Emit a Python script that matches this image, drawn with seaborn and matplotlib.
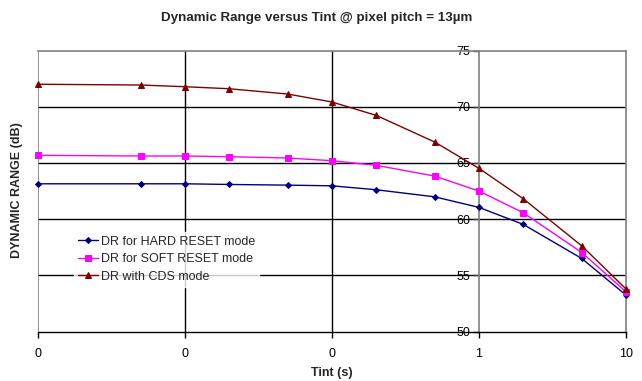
import matplotlib
matplotlib.use("Agg")
import matplotlib.pyplot as plt
import seaborn as sns
import pandas as pd
from matplotlib.ticker import FixedLocator, FixedFormatter, NullLocator

tint = [0.001, 0.005, 0.01, 0.02, 0.05, 0.1, 0.2, 0.5, 1, 2, 5, 10]
dr_hard = [63.15, 63.15, 63.15, 63.09, 63.03, 62.97, 62.62, 61.99, 61.05, 59.54, 56.51, 53.25]
dr_soft = [65.68, 65.62, 65.62, 65.56, 65.44, 65.20, 64.79, 63.83, 62.50, 60.57, 57.04, 53.54]
dr_cds = [72.00, 71.93, 71.78, 71.60, 71.13, 70.42, 69.23, 66.86, 64.52, 61.82, 57.63, 53.80]
series_names = ["DR for HARD RESET mode", "DR for SOFT RESET mode", "DR with CDS mode"]
xtick_values = [0.001, 0.01, 0.1, 1, 10]
xtick_labels = ["0", "0", "0", "1", "10"]
ytick_values = [50, 55, 60, 65, 70, 75]

sns.set_style("white")
plt.rcParams["font.family"] = ["Liberation Sans", "DejaVu Sans"]

fig = plt.figure(figsize=(6.42, 3.81), dpi=100)
ax = fig.add_axes([38/642, 1-331.7/381, 588/642, 281.2/381])

colors = ["#000080", "#FF00FF", "#800000"]
markers = ["D", "s", "^"]
msizes = [3, 4.5, 4.5]
for vals, name, c, m, ms in zip([dr_hard, dr_soft, dr_cds], series_names, colors, markers, msizes):
    df = pd.DataFrame({"x": tint, "y": vals})
    sns.lineplot(data=df, x="x", y="y", ax=ax, color=c, marker=m, markersize=ms,
                 markeredgecolor=c, linewidth=1.0, label=name, clip_on=False, zorder=3)

ax.set_xscale("log")
ax.set_xlim(0.001, 10)
ax.set_ylim(50, 75)
ax.xaxis.set_major_locator(FixedLocator(xtick_values))
ax.xaxis.set_major_formatter(FixedFormatter(xtick_labels))
ax.xaxis.set_minor_locator(NullLocator())
ax.yaxis.set_major_locator(FixedLocator(ytick_values))

for v in ytick_values[1:-1]:
    ax.axhline(v, color="black", linewidth=1.0, zorder=0.5)
for v in [0.01, 0.1]:
    ax.axvline(v, color="black", linewidth=1.0, zorder=0.5)
ax.axvline(0.001, color="#808080", linewidth=1.2, zorder=0.5)

ax.spines["left"].set_position(("data", 1))
for s in ["left", "top", "right"]:
    ax.spines[s].set_color("#808080")
    ax.spines[s].set_linewidth(1.2)
ax.spines["bottom"].set_color("black")
ax.spines["bottom"].set_linewidth(1.0)

ax.tick_params(axis="both", which="major", direction="out", length=4, width=1,
               labelsize=9, colors="black", pad=2)
ax.tick_params(axis="y", left=True, color="#404040")
ax.tick_params(axis="x", bottom=True, pad=8)

ax.set_xlabel("Tint (s)", fontsize=9, fontweight="bold", labelpad=5)
ax.set_ylabel("")
fig.text(17/642, 1-190/381, "DYNAMIC RANGE (dB)", rotation=90, fontsize=9,
         fontweight="bold", ha="center", va="center")
fig.text(317/642, 1-18/381, "Dynamic Range versus Tint @ pixel pitch = 13\u00b5m",
         fontsize=9.6, fontweight="bold", ha="center", va="center")

leg = ax.legend(loc="upper left", bbox_to_anchor=(0.061, 0.355), frameon=True,
                fontsize=9, handlelength=1.6, handletextpad=0.25, labelspacing=0.45,
                borderpad=0.3, fancybox=False, borderaxespad=0)
leg.get_frame().set_facecolor("white")
leg.get_frame().set_edgecolor("white")
leg.set_zorder(5)

fig.savefig("out.png", dpi=100)
